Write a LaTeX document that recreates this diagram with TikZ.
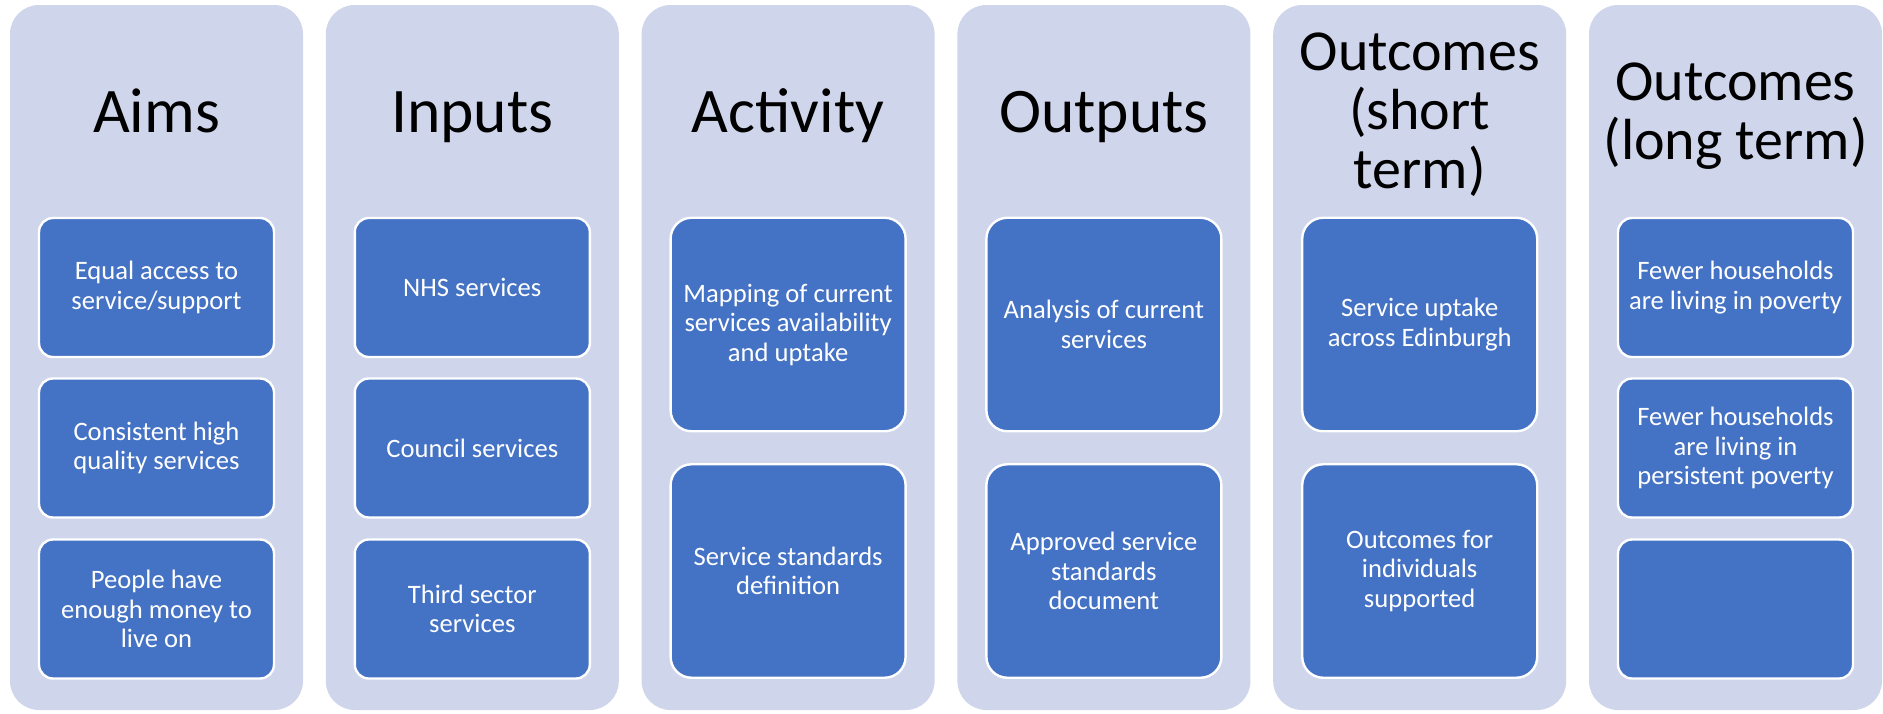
\documentclass[tikz,border=0pt]{standalone}
\usepackage{fontspec}
\setmainfont{Carlito}
\usepackage{tikz}
\usetikzlibrary{positioning}
\definecolor{panel}{RGB}{207,213,234}
\definecolor{cardblue}{RGB}{68,114,196}

\begin{document}
\begin{tikzpicture}[x=0.5pt, y=-0.5pt,
		column/.style={fill=panel, rounded corners=14.5pt, minimum width=146.5pt, minimum height=352.5pt, inner sep=0pt},
		heading/.style={font=\fontsize{31.75}{29.5}\selectfont, align=center, anchor=base},
		card/.style={fill=cardblue, draw=white, line width=1.2pt, text=white, align=center, minimum width=117.5pt, inner sep=0pt, font=\fontsize{13.3}{14.75}\selectfont},
		shortcard/.style={card, minimum height=69.5pt, rounded corners=7pt},
		tallcard/.style={card, minimum height=106.75pt, rounded corners=10.5pt}]
			\useasboundingbox (0,0) rectangle (1883,713);
			% six light panels
			\foreach \i/\x in {1/156.5, 2/472.3, 3/788.1, 4/1103.9, 5/1419.7, 6/1735.5}
			\node[column] (col\i) at (\x,357.5) {};
			% headings (base = last line)
			\node[heading] (aims) at (156.5,132) {Aims};
			\node[heading] (inputs) at (472.3,132) {Inputs};
			\node[heading] (activity) at (788.1,132) {Activity};
			\node[heading] (outputs) at (1103.9,132) {Outputs};
			\node[heading, font=\fontsize{29}{29.5}\selectfont] (shortterm) at (1419.7,188) {Outcomes\\(short\\term)};
			\node[heading, font=\fontsize{29}{29.5}\selectfont] (longterm) at (1735.5,159) {Outcomes\\(long term)};
			% aims
			\node[shortcard] (aim1) at (156.5,287.5) {Equal access to\\service/support};
			\node[shortcard] (aim2) at (156.5,448) {Consistent high\\quality services};
			\node[shortcard] (aim3) at (156.5,609) {People have\\enough money to\\live on};
			% inputs
			\node[shortcard] (in1) at (472.3,287.5) {NHS services};
			\node[shortcard] (in2) at (472.3,448) {Council services};
			\node[shortcard] (in3) at (472.3,609) {Third sector\\services};
			% activity
			\node[tallcard] (act1) at (788.1,324.5) {Mapping of current\\services availability\\and uptake};
			\node[tallcard] (act2) at (788.1,571) {Service standards\\definition};
			% outputs
			\node[tallcard] (out1) at (1103.9,324.5) {Analysis of current\\services};
			\node[tallcard] (out2) at (1103.9,571) {Approved service\\standards\\document};
			% short term outcomes
			\node[tallcard] (st1) at (1419.7,324.5) {Service uptake\\across Edinburgh};
			\node[tallcard] (st2) at (1419.7,571) {Outcomes for\\individuals\\supported};
			% long term outcomes
			\node[shortcard] (lt1) at (1735.5,287.5) {Fewer households\\are living in poverty};
			\node[shortcard] (lt2) at (1735.5,448) {Fewer households\\are living in\\persistent poverty};
			\node[shortcard] (lt3) at (1735.5,609) {};
		\end{tikzpicture}
\end{document}
